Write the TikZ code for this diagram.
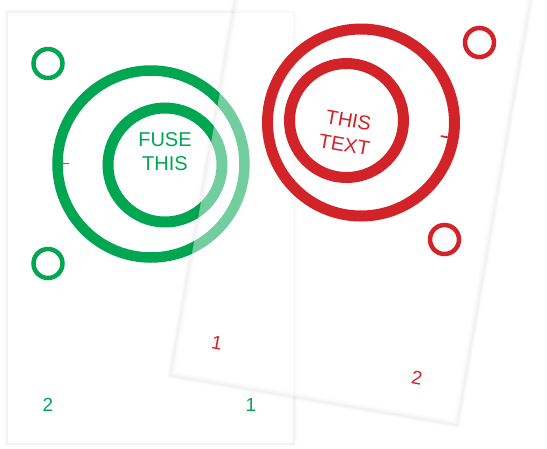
\documentclass[tikz,border=0pt]{standalone}
\usepackage{fontspec}
\setmainfont{Liberation Sans}
\definecolor{fgreen}{RGB}{0,166,81}
\definecolor{fred}{RGB}{210,35,40}
\begin{document}
\begin{tikzpicture}[x=1pt,y=-1pt,
  bigring/.style={line width=10.5},
  smallring/.style={line width=4.5},
  tick/.style={line width=1.8},
  label/.style={font=\fontsize{20}{23.5}\selectfont, align=center, inner sep=0pt},
  num/.style={font=\fontsize{19}{23}\selectfont, inner sep=0pt},
  sheetshadow/.style={black, opacity=0.01, line join=round}]
\useasboundingbox (0,0) rectangle (547,448);
\fill[white] (0,0) rectangle (547,448);

% ---- green sheet (behind) ----
\foreach \d in {1,...,5}
  \draw[sheetshadow, line width=\d*1.5] (8,13) rectangle (293,443);
\fill[white] (8,13) rectangle (293,443);

\draw[fgreen, bigring] (151,164) circle[radius=93.5];
\draw[fgreen, bigring, line width=11] (165,165) circle[radius=57];
\draw[fgreen, smallring] (48,63.5) circle[radius=14.5];
\draw[fgreen, smallring] (48,263.5) circle[radius=14.5];
\draw[fgreen, tick] (62,163.5) -- (69,163.5);
\node[fgreen, label] (fuse) at (165,151.5) {FUSE\\THIS};
\node[fgreen, num] (g2) at (48,405) {2};
\node[fgreen, num] (g1) at (251,405) {1};

% ---- red sheet (front, translucent) ----
\coordinate (BL) at (171,375);
\coordinate (BR) at (456.7,424.3);
\coordinate (TR) at (531.5,-9.1);
\coordinate (TL) at (245.8,-58.4);
\foreach \d in {1,...,5}
  \draw[sheetshadow, line width=\d*1.5] (BL) -- (BR) -- (TR) -- (TL) -- cycle;
\fill[white, opacity=0.45] (BL) -- (BR) -- (TR) -- (TL) -- cycle;

\draw[fred, bigring, line width=11] (361,122.5) circle[radius=93.5];
\draw[fred, bigring, line width=11] (346.5,120.5) circle[radius=57];
\draw[fred, smallring] (479.5,42.5) circle[radius=14.5];
\draw[fred, smallring] (444.5,239.5) circle[radius=14.5];
\draw[fred, tick] (440.8,136.1) -- (447.7,137.3);
\node[fred, label, font=\fontsize{20}{24.5}\selectfont, rotate=-10] (thistext) at (346.5,132.5) {THIS\\TEXT};
\node[fred, num, rotate=-10] (r1) at (217,342.5) {1};
\node[fred, num, rotate=-10] (r2) at (417,377.5) {2};
\end{tikzpicture}
\end{document}
